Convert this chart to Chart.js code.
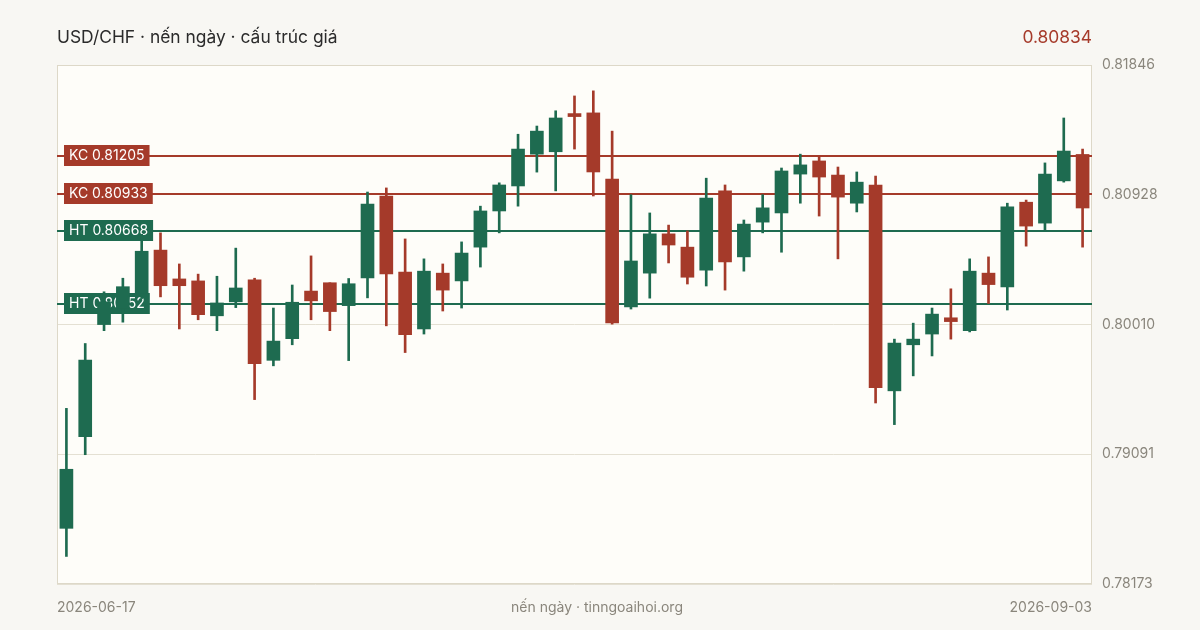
<!DOCTYPE html>
<html>
<head>
<meta charset="utf-8">
<script src="https://cdn.jsdelivr.net/npm/chart.js@4.4.1/dist/chart.umd.min.js"></script>
<style>
    html, body { margin: 0; padding: 0; background: #f8f7f3; }
    #wrap { position: relative; width: 1200px; height: 630px; font-family: Inter, "Noto Sans", sans-serif; }
    #chart { position: absolute; left: 0; top: 0; }
    .txt { position: absolute; white-space: nowrap; }
    #title { left: 57px; top: 26px; font-size: 17.4px; color: #2b2b2b; }
    #last { right: 108px; top: 26px; font-size: 17.4px; color: #a63b2b; }
    .foot { top: 598px; font-size: 14px; color: #8a867c; }
</style>
</head>
<body>
<div id="wrap">
    <canvas id="chart" width="1200" height="630"></canvas>
    <div id="title" class="txt">USD/CHF · nến ngày · cấu trúc giá</div>
    <div id="last" class="txt"></div>
    <div id="footL" class="txt foot" style="left:57px"></div>
    <div class="txt foot" style="left:0;width:1200px;text-align:center;margin-left:-3px">nến ngày · tinngoaihoi.org</div>
    <div id="footR" class="txt foot" style="right:108px"></div>
</div>
<script>
// Trading days
const days = [
    '2026-06-17', '2026-06-18', '2026-06-19', '2026-06-22', '2026-06-23', '2026-06-24', '2026-06-25', '2026-06-26',
    '2026-06-29', '2026-06-30', '2026-07-01', '2026-07-02', '2026-07-06', '2026-07-07', '2026-07-08', '2026-07-09',
    '2026-07-10', '2026-07-13', '2026-07-14', '2026-07-15', '2026-07-16', '2026-07-17', '2026-07-20', '2026-07-21',
    '2026-07-22', '2026-07-23', '2026-07-24', '2026-07-27', '2026-07-28', '2026-07-29', '2026-07-30', '2026-07-31',
    '2026-08-03', '2026-08-04', '2026-08-05', '2026-08-06', '2026-08-07', '2026-08-10', '2026-08-11', '2026-08-12',
    '2026-08-13', '2026-08-14', '2026-08-17', '2026-08-18', '2026-08-19', '2026-08-20', '2026-08-21', '2026-08-24',
    '2026-08-25', '2026-08-26', '2026-08-27', '2026-08-28', '2026-09-01', '2026-09-02', '2026-09-03'
];

// OHLC
const opens = [
    0.78567, 0.79215, 0.80009, 0.80122, 0.80229, 0.80536, 0.80332, 0.80318, 0.80071, 0.80170,
    0.80325, 0.79756, 0.79909, 0.80246, 0.80305, 0.80143, 0.80339, 0.80919, 0.80380, 0.79978,
    0.80373, 0.80318, 0.80557, 0.80813, 0.80990, 0.81215, 0.81232, 0.81500, 0.81507, 0.81038,
    0.80134, 0.80373, 0.80651, 0.80557, 0.80394, 0.80955, 0.80488, 0.80734, 0.80799, 0.81074,
    0.81167, 0.81067, 0.80868, 0.80997, 0.79540, 0.79866, 0.79942, 0.80057, 0.79966, 0.80373,
    0.80275, 0.80875, 0.80727, 0.81026, 0.81213
];
const highs = [
    0.79416, 0.79875, 0.80241, 0.80337, 0.80648, 0.80658, 0.80438, 0.80366, 0.80351, 0.80550,
    0.80337, 0.80126, 0.80289, 0.80495, 0.80305, 0.80335, 0.80947, 0.80976, 0.80615, 0.80474,
    0.80438, 0.80594, 0.80847, 0.81012, 0.81356, 0.81414, 0.81522, 0.81627, 0.81663, 0.81378,
    0.80928, 0.80799, 0.80713, 0.80672, 0.81045, 0.80997, 0.80749, 0.80928, 0.81117, 0.81215,
    0.81194, 0.81124, 0.81089, 0.81060, 0.79906, 0.80019, 0.80126, 0.80262, 0.80474, 0.80488,
    0.80868, 0.80890, 0.81153, 0.81471, 0.81251
];
const lows = [
    0.78368, 0.79088, 0.79966, 0.80026, 0.80193, 0.80205, 0.79978, 0.80043, 0.79966, 0.80129,
    0.79478, 0.79717, 0.79866, 0.80043, 0.79966, 0.79754, 0.80198, 0.80000, 0.79811, 0.79942,
    0.80105, 0.80126, 0.80416, 0.80658, 0.80847, 0.81088, 0.80955, 0.81251, 0.80919, 0.80012,
    0.80119, 0.80196, 0.80445, 0.80296, 0.80282, 0.80253, 0.80387, 0.80658, 0.80521, 0.80868,
    0.80777, 0.80474, 0.80806, 0.79454, 0.79301, 0.79646, 0.79787, 0.79906, 0.79957, 0.80158,
    0.80112, 0.80564, 0.80672, 0.81017, 0.80557
];
const closes = [
    0.78985, 0.79758, 0.80170, 0.80277, 0.80528, 0.80284, 0.80284, 0.80079, 0.80162, 0.80268,
    0.79732, 0.79892, 0.80167, 0.80177, 0.80101, 0.80298, 0.80861, 0.80368, 0.79937, 0.80387,
    0.80253, 0.80515, 0.80813, 0.80997, 0.81251, 0.81378, 0.81471, 0.81481, 0.81089, 0.80021,
    0.80459, 0.80651, 0.80572, 0.80344, 0.80904, 0.80452, 0.80720, 0.80835, 0.81096, 0.81139,
    0.81053, 0.80911, 0.81017, 0.79562, 0.79878, 0.79906, 0.80083, 0.80030, 0.80387, 0.80292,
    0.80842, 0.80706, 0.81074, 0.81237, 0.80834
];

// Support / resistance levels
const levelNames = ['KC', 'KC', 'HT', 'HT'];
const levelValues = [0.81205, 0.80933, 0.80668, 0.80152];

// Axis ticks
const yTicks = [0.81846, 0.80928, 0.80010, 0.79091, 0.78173];

const UP = '#1e6b50';
const DOWN = '#a53a2a';

const candleColors = opens.map((o, i) => closes[i] >= o ? UP : DOWN);

document.getElementById('last').textContent = closes[closes.length - 1].toFixed(5);
document.getElementById('footL').textContent = days[0];
document.getElementById('footR').textContent = days[days.length - 1];

// Plot background, frame and level lines (under the candles)
const plotDecor = {
    id: 'plotDecor',
    beforeDraw(chart) {
        const { ctx, chartArea: a } = chart;
        ctx.save();
        ctx.fillStyle = '#fefdf9';
        ctx.fillRect(a.left, a.top, a.right - a.left, a.bottom - a.top);
        ctx.restore();
    },
    beforeDatasetsDraw(chart) {
        const { ctx, chartArea: a, scales: { y } } = chart;
        ctx.save();
        ctx.strokeStyle = '#ddd8c8';
        ctx.lineWidth = 1;
        ctx.strokeRect(a.left + 0.5, a.top + 0.5, a.right - a.left - 1, a.bottom - a.top - 1);
        ctx.font = '14px Inter, "Noto Sans", sans-serif';
        ctx.textBaseline = 'middle';
        levelValues.forEach((v, i) => {
            const col = levelNames[i] === 'KC' ? DOWN : UP;
            const py = Math.round(y.getPixelForValue(v));
            ctx.strokeStyle = col;
            ctx.lineWidth = 2;
            ctx.beginPath();
            ctx.moveTo(a.left, py);
            ctx.lineTo(a.right, py);
            ctx.stroke();
            const text = levelNames[i] + ' ' + v.toFixed(5);
            const w = ctx.measureText(text).width + 10;
            ctx.fillStyle = col;
            ctx.fillRect(a.left + 7, py - 11, w, 21);
            ctx.fillStyle = '#ffffff';
            ctx.fillText(text, a.left + 12, py);
        });
        ctx.restore();
    }
};

new Chart(document.getElementById('chart').getContext('2d'), {
    type: 'bar',
    data: {
        labels: days,
        datasets: [
            {
                // wicks
                data: lows.map((l, i) => [l, highs[i]]),
                backgroundColor: candleColors,
                barThickness: 2,
                grouped: false,
                order: 2
            },
            {
                // bodies
                data: opens.map((o, i) => [o, closes[i]]),
                backgroundColor: candleColors,
                barThickness: 13,
                minBarLength: 3,
                grouped: false,
                order: 1
            }
        ]
    },
    options: {
        responsive: false,
        animation: false,
        layout: { padding: { left: 57, top: 65, bottom: 46, right: 0 } },
        plugins: {
            legend: { display: false },
            tooltip: { enabled: false }
        },
        scales: {
            x: {
                display: false,
                offset: true
            },
            y: {
                position: 'right',
                min: 0.78173,
                max: 0.81846,
                afterBuildTicks: scale => { scale.ticks = yTicks.map(v => ({ value: v })); },
                afterFit: scale => { scale.width = 108; },
                grid: { color: '#e4e0d3', drawTicks: false },
                border: { display: false },
                ticks: {
                    padding: 10,
                    color: '#8a867c',
                    font: { family: 'Inter, "Noto Sans", sans-serif', size: 14 },
                    callback: v => v.toFixed(5)
                }
            }
        }
    },
    plugins: [plotDecor]
});
</script>
</body>
</html>
